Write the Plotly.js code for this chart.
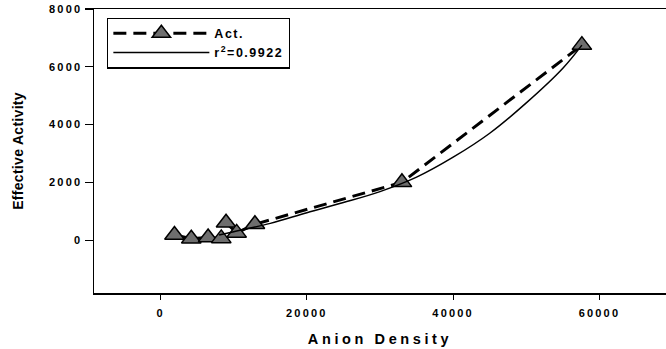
<!DOCTYPE html>
<html>
<head>
<meta charset="utf-8">
<script src="https://cdn.plot.ly/plotly-3.0.1.min.js"></script>
<style>
  html, body { margin: 0; padding: 0; background: #fff; }
  #chart { width: 666px; height: 349px; }
  .xtick text, .ytick text { letter-spacing: 2.2px; }
  .g-xtitle text { letter-spacing: 3.6px; }
  .g-ytitle text { letter-spacing: 0.3px; }
  .legendtext { letter-spacing: 1.5px; }
</style>
</head>
<body>
<div id="chart"></div>
<script>
// Measured data (Act.)
const actX = [1900, 4200, 6500, 8300, 8950, 10400, 12900, 33000, 57600];
const actY = [180, 50, 90, 60, 600, 250, 550, 2000, 6750];

// Fitted curve (r^2 = 0.9922)
const fitX = [8000, 10000, 15000, 20000, 25000, 30000, 35000, 40000, 45000, 50000, 55000, 57600];
const fitY = [180, 290, 580, 950, 1300, 1680, 2180, 2870, 3700, 4750, 5950, 6750];

const xTicks = [0, 20000, 40000, 60000];
const yTicks = [0, 2000, 4000, 6000, 8000];

const seriesNames = ["Act.", "r<sup>2</sup>=0.9922"];

const fontFam = "'Liberation Sans', Arial, sans-serif";

const traces = [
  {
    x: actX, y: actY, name: seriesNames[0],
    type: 'scatter', mode: 'lines+markers',
    line: { color: '#000', width: 3, dash: '13px,7px' },
    marker: { symbol: 'triangle-up', size: 17, color: '#6e6e6e', line: { color: '#000', width: 1.5 } }
  },
  {
    x: fitX, y: fitY, name: seriesNames[1],
    type: 'scatter', mode: 'lines',
    line: { color: '#000', width: 1.5, shape: 'spline' }
  }
];

const layout = {
  width: 666, height: 349,
  margin: { l: 94, r: 0, t: 9, b: 56 },
  paper_bgcolor: '#fff', plot_bgcolor: '#fff',
  font: { family: fontFam, color: '#000' },
  showlegend: true,
  legend: {
    x: 0.023, y: 0.97, xanchor: 'left', yanchor: 'top',
    bgcolor: '#fff', bordercolor: '#000', borderwidth: 1.2,
    font: { family: fontFam, size: 12.5, color: '#000', weight: 'bold' },
    itemwidth: 96, tracegroupgap: 0
  },
  xaxis: {
    range: [-9100, 69100],
    tickvals: xTicks, ticktext: xTicks.map(String),
    showline: true, linecolor: '#000', linewidth: 1.5, mirror: true,
    ticks: 'outside', ticklen: 5, tickwidth: 1.2, tickcolor: '#000',
    ticklabelstandoff: 4,
    showgrid: false, zeroline: false,
    tickfont: { family: fontFam, size: 11, color: '#000', weight: 'bold' },
    title: { text: 'Anion Density', font: { family: fontFam, size: 14.5, color: '#000', weight: 'bold' }, standoff: 16 }
  },
  yaxis: {
    range: [-1830, 8000],
    tickvals: yTicks, ticktext: yTicks.map(String),
    showline: true, linecolor: '#000', linewidth: 1.5, mirror: false,
    ticks: 'outside', ticklen: 8, tickwidth: 1.2, tickcolor: '#000',
    showgrid: false, zeroline: false,
    tickfont: { family: fontFam, size: 11, color: '#000', weight: 'bold' },
    title: { text: 'Effective Activity', font: { family: fontFam, size: 14, color: '#000', weight: 'bold' }, standoff: 22 }
  }
};

Plotly.newPlot('chart', traces, layout, { displayModeBar: false, staticPlot: true });
</script>
</body>
</html>
